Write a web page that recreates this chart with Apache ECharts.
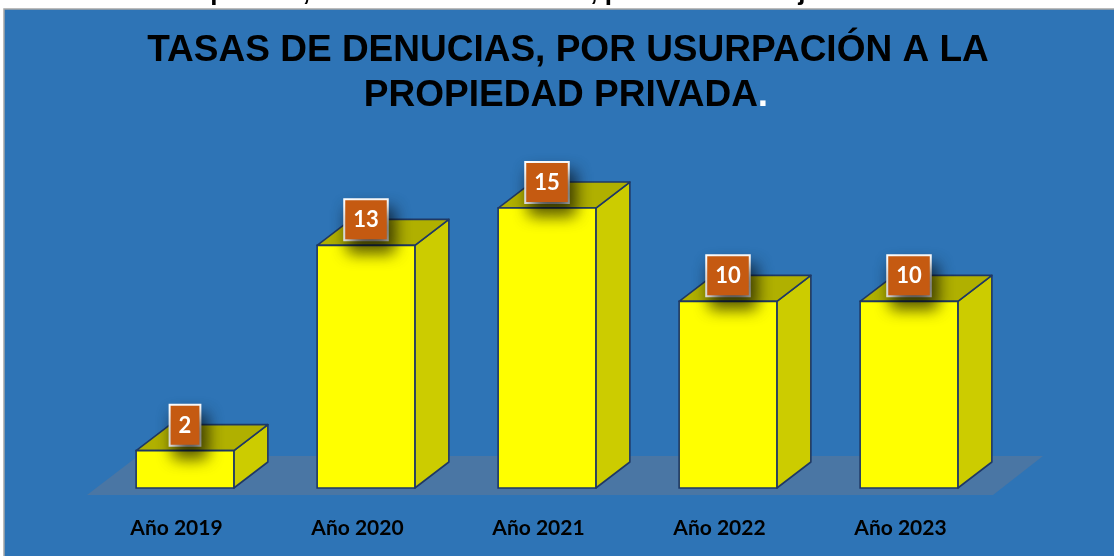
<!DOCTYPE html>
<html><head><meta charset="utf-8">
<script src="https://cdn.jsdelivr.net/npm/echarts@6/dist/echarts.min.js"></script>
<style>html,body{margin:0;padding:0;background:#fff}#c{width:1114px;height:556px}</style>
</head><body><div id="c"></div>
<script>
const categories = ['Año 2019', 'Año 2020', 'Año 2021', 'Año 2022', 'Año 2023'];
const values = [2, 13, 15, 10, 10];
const titleLine1 = 'TASAS DE DENUCIAS, POR USURPACIÓN A LA';
const titleLine2 = 'PROPIEDAD PRIVADA';
const topText = 'privada, en el distrito de Jesús, provincia de Cajamarca.';

const chart = echarts.init(document.getElementById('c'));
const DX = 34, DY = -26;

function renderBar(params, api) {
  const cat = api.value(0), v = api.value(1);
  const top = api.coord([cat, v]);
  const base = api.coord([cat, 0]);
  const w = api.size([1, 0])[0] * 0.54;
  const x0 = top[0] - w / 2, x1 = top[0] + w / 2;
  const yt = top[1], yb = base[1];
  const stroke = '#1F3864';
  const lw = 1.6;
  return {
    type: 'group',
    children: [
      { type: 'polygon', shape: { points: [[x1, yt], [x1 + DX, yt + DY], [x1 + DX, yb + DY], [x1, yb]] },
        style: { fill: '#CCCC00', stroke: stroke, lineWidth: lw, lineJoin: 'round' } },
      { type: 'polygon', shape: { points: [[x0, yt], [x0 + DX, yt + DY], [x1 + DX, yt + DY], [x1, yt]] },
        style: { fill: '#B0B000', stroke: stroke, lineWidth: lw, lineJoin: 'round' } },
      { type: 'rect', shape: { x: x0, y: yt, width: w, height: yb - yt },
        style: { fill: '#FFFF00', stroke: stroke, lineWidth: lw } },
      { type: 'text', x: top[0], y: yt - 6,
        style: { text: String(v), fill: '#fff', font: 'bold 22px Lato, "Open Sans", sans-serif',
          align: 'center', verticalAlign: 'bottom',
          backgroundColor: '#C55A11', borderColor: '#fff', borderWidth: 2,
          padding: [9, 8, 8, 8],
          shadowBlur: 16, shadowColor: 'rgba(0,0,0,0.7)', shadowOffsetX: 5, shadowOffsetY: 11 } }
    ]
  };
}

chart.setOption({
  backgroundColor: '#ffffff',
  animation: false,
  graphic: [
    { type: 'rect', shape: { x: 4, y: 9, width: 1120, height: 560 },
      style: { fill: '#2E74B6', stroke: '#A6A6A6', lineWidth: 1.5 }, z: -10 },
    { type: 'text', left: 'center', top: -20,
      style: { text: topText, fill: '#000', font: 'bold 26px "Liberation Sans", Arial, sans-serif' }, z: -5 },
    { type: 'polygon', shape: { points: [[87, 495], [138, 456], [1043, 456], [993, 495]] },
      style: { fill: '#4A76A4' }, z: -5 },
    { type: 'text', x: 568, y: 51,
      style: { text: titleLine1, fill: '#000', font: 'bold 37px "Liberation Sans", Arial, sans-serif',
        align: 'center', verticalAlign: 'middle' } },
    { type: 'text', x: 566, y: 96,
      style: { text: '{a|' + titleLine2 + '}{b|.}', align: 'center', verticalAlign: 'middle',
        rich: { a: { fill: '#000', font: 'bold 37px "Liberation Sans", Arial, sans-serif' },
                b: { fill: '#fff', font: 'bold 37px "Liberation Sans", Arial, sans-serif' } } } }
  ],
  grid: { left: 94.5, right: 114.5, top: 114.7, bottom: 68 },
  xAxis: {
    type: 'category', data: categories,
    axisLine: { show: false }, axisTick: { show: false }, splitLine: { show: false },
    axisLabel: { color: '#000', fontWeight: 'bold', fontSize: 21, fontFamily: 'Lato, "Open Sans", sans-serif',
      margin: 30, padding: [0, 17, 0, 0] }
  },
  yAxis: { type: 'value', min: 0, max: 20, show: false },
  series: [{
    type: 'custom', renderItem: renderBar,
    data: values.map((v, i) => [i, v]),
    encode: { x: 0, y: 1 }, clip: false
  }]
});
</script></body></html>
